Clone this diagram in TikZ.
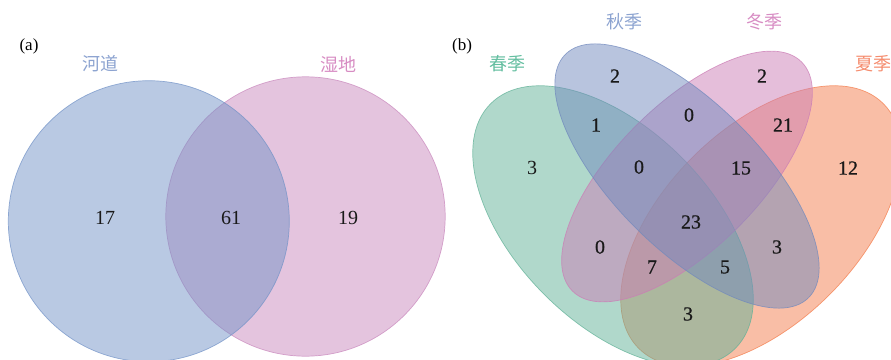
\documentclass[tikz,border=0pt]{standalone}
\usepackage{fontspec}
\setmainfont{Liberation Serif}
\newfontfamily\cjk{Noto Sans CJK SC}
\newfontface\numbold{Liberation Serif}[FakeBold=0.6]
\definecolor{aBlue}{RGB}{115,147,199}
\definecolor{aPink}{RGB}{201,137,189}
\definecolor{bBlue}{RGB}{113,137,189}
\definecolor{bPink}{RGB}{203,125,181}
\definecolor{bGreen}{RGB}{97,177,151}
\definecolor{bOrange}{RGB}{243,125,77}
\definecolor{lBlue}{RGB}{140,163,208}
\definecolor{lPink}{RGB}{215,140,195}
\definecolor{lGreen}{RGB}{100,190,160}
\definecolor{lOrange}{RGB}{245,140,110}
\tikzset{
  setshape/.style={fill=#1, fill opacity=0.5, draw=#1, draw opacity=0.75, line width=0.7pt},
  num/.style={font=\fontsize{20}{20}\selectfont, text=black!90, inner sep=0pt},
  bnum/.style={font=\numbold\fontsize{20}{20}\selectfont, text=black!90, inner sep=0pt},
  setlabel/.style={font=\cjk\fontsize{18}{18}\selectfont, text=#1, inner sep=0pt},
  panel/.style={font=\fontsize{17}{17}\selectfont, inner sep=0pt}
}
\begin{document}
\begin{tikzpicture}[x=1pt,y=-1pt]
\useasboundingbox (0,0) rectangle (891,359);
\clip (0,0) rectangle (891,359);
% panel (a)
\draw[setshape=aPink] (305.5,216.5) circle[radius=139.7pt];
\draw[setshape=aBlue] (148.8,221.2) circle[radius=140.5pt];
\node[panel] (pa) at (29,46) {(a)};
\node[setlabel=lBlue] (la1) at (100,64) {河道};
\node[setlabel=lPink] (la2) at (338,64) {湿地};
\node[num] (a1) at (105,218) {17};
\node[num] (a2) at (231,218) {61};
\node[num] (a3) at (348,218) {19};
% panel (b)
\draw[setshape=bOrange, rotate around={45:(761,226)}] (761,226) ellipse[x radius=173pt, y radius=97pt];
\draw[setshape=bGreen, rotate around={-45:(613,226)}] (613,226) ellipse[x radius=173pt, y radius=97pt];
\draw[setshape=bPink, rotate around={45:(687,176.5)}] (687,176.5) ellipse[x radius=162pt, y radius=72pt];
\draw[setshape=bBlue, rotate around={-45:(687,176)}] (687,176) ellipse[x radius=172pt, y radius=73pt];
\node[panel] (pb) at (462,46) {(b)};
\node[setlabel=lBlue] (lb1) at (624,22) {秋季};
\node[setlabel=lPink] (lb2) at (764,22) {冬季};
\node[setlabel=lGreen] (lb3) at (507,64) {春季};
\node[setlabel=lOrange] (lb4) at (873,64) {夏季};
\node[bnum] (b1) at (615,76) {2};
\node[bnum] (b2) at (762,76) {2};
\node[bnum] (b3) at (689,115) {0};
\node[bnum] (b4) at (596,125) {1};
\node[bnum] (b5) at (783,125) {21};
\node[num] (b6) at (532,168) {3};
\node[bnum] (b7) at (639,167) {0};
\node[bnum] (b8) at (741,168) {15};
\node[bnum] (b9) at (848,168) {12};
\node[bnum] (b10) at (691,222) {23};
\node[bnum] (b11) at (600,247) {0};
\node[bnum] (b12) at (777,247) {3};
\node[bnum] (b13) at (652,267) {7};
\node[bnum] (b14) at (725,267) {5};
\node[bnum] (b15) at (688,314) {3};
\end{tikzpicture}
\end{document}
